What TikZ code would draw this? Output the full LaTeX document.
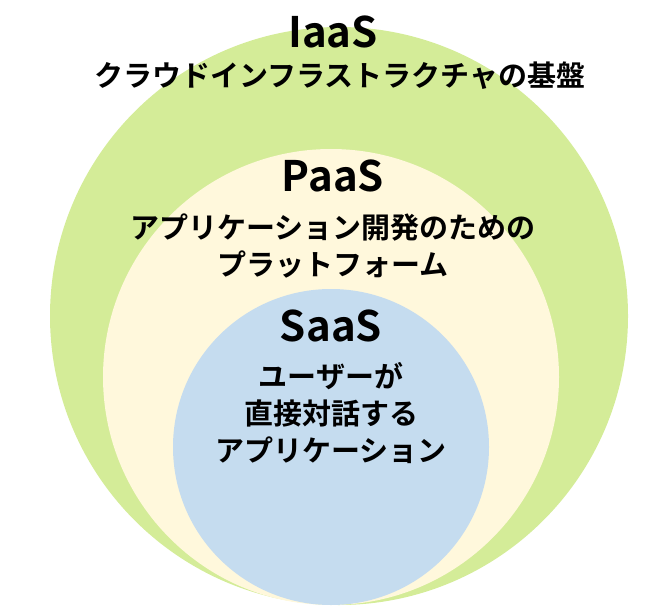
\documentclass[tikz,border=0pt]{standalone}
\usepackage{fontspec}
\setmainfont{Noto Sans CJK JP}[BoldFont={* Bold}]
\definecolor{cI}{HTML}{D4EC98}
\definecolor{cP}{HTML}{FFF8DC}
\definecolor{cS}{HTML}{C5DCEF}
\begin{document}
\begin{tikzpicture}[x=1pt,y=-1pt,
  big/.style={font=\fontsize{42}{46}\selectfont\bfseries},
  jp/.style={font=\fontsize{29}{37}\selectfont\bfseries,align=center}]
\useasboundingbox (0,0) rectangle (652,609);
\fill[cI] (339,316) circle (289);
\fill[cP] (331,377) circle (228);
\fill[cS] (331,447) circle (158);
\node[big] (i) at (333,32) {IaaS};
\node[jp] (it) at (340,76) {クラウドインフラストラクチャの基盤};
\node[big] (p) at (333,176) {PaaS};
\node[jp] (pt) at (333,246) {アプリケーション開発のための\\プラットフォーム};
\node[big] (s) at (331,326) {SaaS};
\node[jp] (st) at (331,413) {ユーザーが\\直接対話する\\アプリケーション};
\end{tikzpicture}
\end{document}
